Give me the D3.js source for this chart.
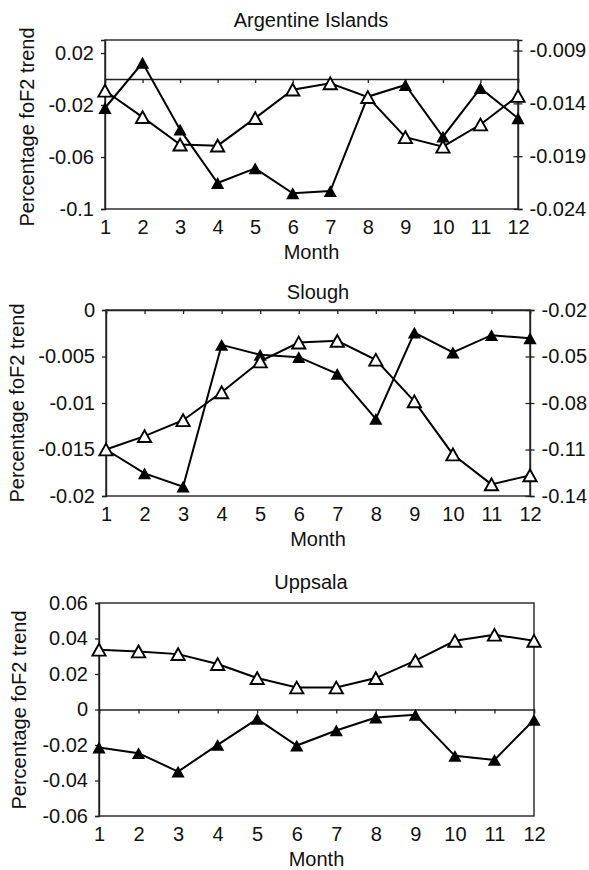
<!DOCTYPE html>
<html lang="en">
<head>
<meta charset="utf-8">
<title>foF2 trend by month</title>
<script src="https://d3js.org/d3.v7.min.js"></script>
<style type="text/css">
  body { margin: 0; background: #fff; }
  text { font-family: "Liberation Sans", Arial, sans-serif; font-size: 20px; fill: #111; }
</style>
</head>
<body>
<script type="text/javascript">

    // Data
    var months = [1, 2, 3, 4, 5, 6, 7, 8, 9, 10, 11, 12];

    // Argentine Islands: filled on left axis, open on right axis
    var argFilled = [-0.0223, 0.0125, -0.039, -0.080, -0.0687, -0.0879, -0.0862, -0.0136, -0.0046, -0.0444, -0.0070, -0.0302];
    var argOpen = [-0.0128, -0.0153, -0.0179, -0.0180, -0.0154, -0.0127, -0.0121, -0.0134, -0.0172, -0.0181, -0.0160, -0.0133];
    var argLeftTicks = [0.02, -0.02, -0.06, -0.1];
    var argRightTicks = [-0.009, -0.014, -0.019, -0.024];

    // Slough
    var sloughFilled = [-0.0150, -0.01757, -0.0190, -0.00375, -0.00482, -0.00507, -0.00686, -0.01171, -0.00243, -0.00457, -0.00271, -0.00304];
    var sloughOpen = [-0.110, -0.1014, -0.0911, -0.0731, -0.0532, -0.0410, -0.0399, -0.0521, -0.0789, -0.1132, -0.1325, -0.1267];
    var sloughLeftTicks = [0, -0.005, -0.01, -0.015, -0.02];
    var sloughRightTicks = [-0.02, -0.05, -0.08, -0.11, -0.14];

    // Uppsala (single axis)
    var uppOpen = [0.0337, 0.0327, 0.0312, 0.0256, 0.0177, 0.0124, 0.0124, 0.0177, 0.0275, 0.0387, 0.0421, 0.0387];
    var uppFilled = [-0.0214, -0.0246, -0.035, -0.0199, -0.0053, -0.0203, -0.0118, -0.0045, -0.0030, -0.0261, -0.0284, -0.0058];
    var uppTicks = [0.06, 0.04, 0.02, 0, -0.02, -0.04, -0.06];

    var w = 589;
    var h = 870;

    var svg = d3.select("body")
                .append("svg")
                .attr("width", w)
                .attr("height", h);

    var panels = [
      { title: "Argentine Islands", left: 105, right: 518, top: 40, bottom: 209, titleX: 311, titleY: 27,
        ylabX: 34, ylabY: 127,
        leftDomain: [-0.1, 0.03], leftTicks: argLeftTicks,
        rightDomain: [-0.024, -0.008], rightTicks: argRightTicks,
        filled: argFilled, open: argOpen },
      { title: "Slough", left: 106, right: 530, top: 310, bottom: 496, titleX: 318, titleY: 299,
        ylabX: 24, ylabY: 403,
        leftDomain: [-0.02, 0], leftTicks: sloughLeftTicks,
        rightDomain: [-0.14, -0.02], rightTicks: sloughRightTicks,
        filled: sloughFilled, open: sloughOpen },
      { title: "Uppsala", left: 99, right: 534, top: 603, bottom: 816, titleX: 311, titleY: 589,
        ylabX: 26, ylabY: 710,
        leftDomain: [-0.06, 0.06], leftTicks: uppTicks,
        rightDomain: null, rightTicks: null,
        filled: uppFilled, open: uppOpen }
    ];

    // triangle marker, bbox centred on the point
    function tri(x, y) {
      var hw = 6.6, hh = 5.9;
      return "M" + x + "," + (y - hh) + "L" + (x + hw) + "," + (y + hh) + "L" + (x - hw) + "," + (y + hh) + "Z";
    }

    panels.forEach(function(p) {
      var g = svg.append("g");

      var xScale = d3.scaleLinear()
                     .domain([1, 12])
                     .range([p.left, p.right]);

      var yLeft = d3.scaleLinear()
                    .domain(p.leftDomain)
                    .range([p.bottom, p.top]);

      var yRight = p.rightDomain ? d3.scaleLinear().domain(p.rightDomain).range([p.bottom, p.top]) : yLeft;

      // plot frame
      g.append("rect")
       .attr("x", p.left)
       .attr("y", p.top)
       .attr("width", p.right - p.left)
       .attr("height", p.bottom - p.top)
       .attr("fill", "none")
       .attr("stroke", "#222")
       .attr("stroke-width", 1.4);

      // left axis
      g.append("g")
       .attr("transform", "translate(" + p.left + ",0)")
       .call(d3.axisLeft(yLeft)
               .tickValues(p.leftTicks)
               .tickSize(4)
               .tickPadding(7)
               .tickFormat(function(d) { return String(d); }));

      // right axis (ticks cross the line)
      if (p.rightDomain) {
        var ra = g.append("g")
                  .attr("transform", "translate(" + p.right + ",0)")
                  .call(d3.axisRight(yRight)
                          .tickValues(p.rightTicks)
                          .tickSize(4.5)
                          .tickPadding(7)
                          .tickFormat(function(d) { return String(d); }));
        ra.selectAll(".tick line").attr("x1", -4.5);
      }

      // category axis at zero, ticks pointing down
      g.append("g")
       .attr("transform", "translate(0," + yLeft(0) + ")")
       .call(d3.axisBottom(xScale)
               .tickValues(months)
               .tickSize(4)
               .tickFormat(""));

      // month labels along the bottom
      var ba = g.append("g")
                .attr("transform", "translate(0," + p.bottom + ")")
                .call(d3.axisBottom(xScale)
                        .tickValues(months)
                        .tickSize(0)
                        .tickPadding(11)
                        .tickFormat(function(d) { return d; }));
      ba.select(".domain").remove();

      g.selectAll(".domain")
       .attr("stroke", "#222")
       .attr("stroke-width", 1.4);
      g.selectAll(".tick line")
       .attr("stroke", "#222")
       .attr("stroke-width", 1.3);
      g.selectAll(".tick text")
       .attr("font-family", "Liberation Sans, Arial, sans-serif")
       .attr("font-size", "20px")
       .attr("fill", "#111");

      // titles
      g.append("text")
       .attr("x", p.titleX)
       .attr("y", p.titleY)
       .attr("text-anchor", "middle")
       .text(p.title);

      g.append("text")
       .attr("x", (p.left + p.right) / 2)
       .attr("y", p.bottom + 50)
       .attr("text-anchor", "middle")
       .text("Month");

      g.append("text")
       .attr("transform", "translate(" + p.ylabX + "," + p.ylabY + ") rotate(-90)")
       .attr("text-anchor", "middle")
       .text("Percentage foF2 trend");

      var line = function(scale) {
        return d3.line()
                 .x(function(d, i) { return xScale(months[i]); })
                 .y(function(d) { return scale(d); });
      };

      // filled series
      g.append("path")
       .datum(p.filled)
       .attr("d", line(yLeft))
       .attr("fill", "none")
       .attr("stroke", "#000")
       .attr("stroke-width", 2);

      // open series
      g.append("path")
       .datum(p.open)
       .attr("d", line(yRight))
       .attr("fill", "none")
       .attr("stroke", "#000")
       .attr("stroke-width", 2);

      g.selectAll(".filled")
       .data(p.filled)
       .enter()
       .append("path")
       .attr("class", "filled")
       .attr("d", function(d, i) { return tri(xScale(months[i]), yLeft(d)); })
       .attr("fill", "#000");

      g.selectAll(".open")
       .data(p.open)
       .enter()
       .append("path")
       .attr("class", "open")
       .attr("d", function(d, i) { return tri(xScale(months[i]), yRight(d)); })
       .attr("fill", "#fff")
       .attr("stroke", "#000")
       .attr("stroke-width", 1.9);
    });

</script>
</body>
</html>
